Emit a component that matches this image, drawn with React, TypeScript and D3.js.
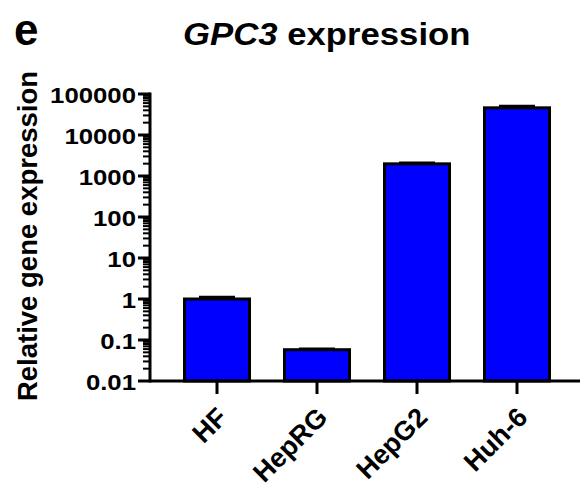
import React from "react";
import * as d3 from "d3";

const categories = ["HF", "HepRG", "HepG2", "Huh-6"];
const values = [1.0, 0.058, 1980, 46000];
const errors = [0.1, 0.002, 100, 4500];
const yTickValues = [0.01, 0.1, 1, 10, 100, 1000, 10000, 100000];
const yTickLabels = ["0.01", "0.1", "1", "10", "100", "1000", "10000", "100000"];

const W = 587;
const H = 487;

export default function App() {
  const x = d3.scaleBand<string>().domain(categories).range([167, 567]).paddingInner(0.35).paddingOuter(0.175);
  const y = d3.scaleLog().domain([0.01, 100000]).range([381, 94]);
  const minor = y.ticks().filter((t) => !yTickValues.some((v) => Math.abs(v - t) / v < 1e-6));
  const font = "'Liberation Sans', Arial, Helvetica, sans-serif";
  const axisX = 150;
  const baseY = y(0.01);
  return (
    <svg width={W} height={H} style={{ position: "absolute", left: 0, top: 0, background: "#fff" }} fontFamily={font}>
      <rect x={0} y={0} width={W} height={H} fill="#fff" />
      <text x={14} y={45} fontSize={44} fontWeight="bold">e</text>
      <g transform="translate(183,45) scale(1.12,1)">
        <text x={0} y={0} fontSize={31} fontWeight="bold">
          <tspan fontStyle="italic">GPC3</tspan>
          <tspan> expression</tspan>
        </text>
      </g>
      <text transform={`translate(37,236) rotate(-90)`} textAnchor="middle" fontSize={27.5} fontWeight="bold">
        Relative gene expression
      </text>
      {/* bars */}
      {categories.map((c, i) => {
        const x0 = x(c)!;
        const bw = x.bandwidth();
        const cx = x0 + bw / 2;
        const top = y(values[i]);
        const errTop = y(values[i] + errors[i]);
        return (
          <g key={c}>
            <rect x={x0} y={top} width={bw} height={baseY - top} fill="#0000FF" stroke="#000" strokeWidth={3} />
            <line x1={cx} x2={cx} y1={top} y2={errTop} stroke="#000" strokeWidth={3} />
            <line x1={cx - 18} x2={cx + 18} y1={errTop} y2={errTop} stroke="#000" strokeWidth={3} />
          </g>
        );
      })}
      {/* y axis */}
      <line x1={axisX} x2={axisX} y1={y(100000) - 1.5} y2={baseY + 1.5} stroke="#000" strokeWidth={3} />
      {minor.map((t, i) => (
        <line key={"m" + i} x1={axisX - 7} x2={axisX} y1={y(t)} y2={y(t)} stroke="#000" strokeWidth={2} />
      ))}
      {yTickValues.map((t, i) => (
        <g key={"t" + i}>
          <line x1={axisX - 12} x2={axisX} y1={y(t)} y2={y(t)} stroke="#000" strokeWidth={3} />
          <g transform={`translate(${axisX - 14},${y(t) + 8.5}) scale(1.12,1)`}>
            <text x={0} y={0} textAnchor="end" fontSize={23} fontWeight="bold">{yTickLabels[i]}</text>
          </g>
        </g>
      ))}
      {/* x axis */}
      <line x1={axisX} x2={580} y1={baseY} y2={baseY} stroke="#000" strokeWidth={3} />
      {categories.map((c) => {
        const cx = x(c)! + x.bandwidth() / 2;
        return (
          <g key={"x" + c}>
            <line x1={cx} x2={cx} y1={baseY} y2={baseY + 13} stroke="#000" strokeWidth={3} />
            <text transform={`translate(${cx + 12},${baseY + 38}) rotate(-45)`} textAnchor="end" fontSize={27} fontWeight="bold">
              {c}
            </text>
          </g>
        );
      })}
    </svg>
  );
}
